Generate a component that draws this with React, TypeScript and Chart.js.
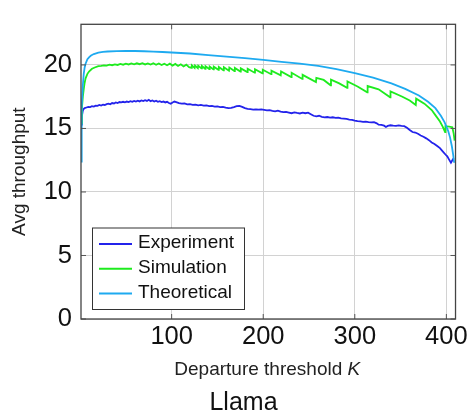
import React, { useEffect, useRef } from "react";
import { Chart, registerables } from "chart.js";

Chart.register(...registerables);

const FONT = '"Liberation Sans", Arial, Helvetica, sans-serif';

// ---- axis / labels ----
const xTicks = [100, 200, 300, 400];
const yTicks = [0, 5, 10, 15, 20];
const xMin = 1;
const xMax = 410;
const yMin = 0;
const yMax = 23.2;
const xTitle = "Departure threshold ";
const xTitleVar = "K";
const yTitle = "Avg throughput";
const caption = "Llama";
const seriesLabels = ["Experiment", "Simulation", "Theoretical"];
const seriesColors = ["rgb(35,35,235)", "rgb(30,235,30)", "rgb(30,170,240)"];

// ---- Experiment ----
const expX = [
  1, 2, 3, 4, 5, 7, 9, 11, 13, 15, 17, 19, 21, 23, 25, 27, 29, 31, 33, 35, 37, 39, 41, 43, 45, 47, 49,
  51, 53, 55, 57, 59, 61, 63, 65, 67, 69, 71, 73, 75, 77, 79, 81, 83, 85, 87, 89, 91, 93, 95, 97, 99,
  101, 103, 105, 108, 111, 114, 117, 120, 123, 126, 129, 132, 135, 138, 141, 144, 147, 150, 153, 156,
  159, 162, 165, 168, 171, 174, 177, 180, 183, 186, 189, 192, 195, 198, 201, 204, 207, 210, 213, 216,
  219, 222, 225, 228, 231, 234, 237, 240, 243, 246, 249, 252, 255, 258, 261, 264, 267, 270, 273, 276,
  279, 282, 285, 288, 291, 294, 297, 300, 303, 306, 309, 312, 315, 318, 321, 324, 326, 329, 332, 334,
  336, 339, 342, 345, 348, 351, 354, 357, 360, 363, 366, 369, 372, 375, 378, 381, 384, 387, 390, 393,
  396, 399, 401, 403, 405, 407, 408,
];
const expY = [
  15.3, 16.0, 16.4, 16.55, 16.6, 16.65, 16.7, 16.68, 16.75, 16.72, 16.8, 16.78, 16.85, 16.8, 16.88,
  16.85, 16.92, 16.95, 16.9, 17.0, 16.97, 17.05, 17.0, 17.08, 17.05, 17.1, 17.06,
  17.12, 17.08, 17.15, 17.1, 17.17, 17.12, 17.18, 17.13, 17.2, 17.15, 17.22, 17.17, 17.26, 17.15, 17.2,
  17.12, 17.18, 17.1, 17.15, 17.08, 17.12, 17.05, 17.1, 17.0, 16.95,
  17.05, 17.12, 17.08, 17.0, 16.95, 16.98, 16.9, 16.92, 16.86, 16.88, 16.82, 16.85, 16.8, 16.82, 16.76,
  16.78, 16.72, 16.74, 16.68, 16.7,
  16.64, 16.6, 16.62, 16.68, 16.75, 16.78, 16.7, 16.6, 16.55, 16.52, 16.48, 16.5, 16.48, 16.5, 16.46,
  16.42, 16.44, 16.38, 16.35, 16.4,
  16.32, 16.28, 16.3, 16.25, 16.2, 16.27, 16.22, 16.18, 16.25, 16.2, 16.24, 16.12, 16.0, 15.95, 16.0,
  15.92, 15.87, 15.9, 15.85, 15.88,
  15.84, 15.86, 15.8, 15.78, 15.75, 15.7, 15.68, 15.62, 15.58, 15.55, 15.52, 15.54, 15.5, 15.48, 15.5,
  15.4, 15.3, 15.28, 15.22, 15.12,
  15.2, 15.25, 15.22, 15.2, 15.24, 15.2, 15.18, 15.05, 14.88, 14.72, 14.68, 14.58, 14.45, 14.35, 14.22,
  14.08, 13.9, 13.78, 13.62, 13.45,
  13.2, 12.95, 12.8, 12.55, 12.3, 12.55, 12.65,
];

// ---- Simulation ----
const simX = [
  1, 2, 3, 4, 5, 6, 8, 10, 13, 16, 20, 23, 26, 29, 32, 35, 38, 41, 44, 47, 50, 53, 56, 59, 62, 65, 68,
  71, 74, 77, 80, 83, 86, 89, 92, 95, 98, 101, 104, 107, 110, 113, 116, 119,
  121.6, 122, 125.1, 125.5, 128.6, 129, 132.6, 133, 136.6, 137, 141.1, 141.5, 145.6, 146, 151.1, 151.5,
  156.6, 157, 162.6, 163, 168.6, 169, 175.1, 175.5, 182.6, 183, 190.6, 191, 199.1, 199.5, 208.6, 209,
  219.1, 219.5, 230.6, 231, 242.6, 243, 257.6, 258, 266, 273.6, 274, 283, 291.6, 292, 303, 313.6, 314,
  326, 338.6, 339, 352, 360, 366.6, 367, 376, 384, 388, 393, 396, 398.6, 399, 403, 406.5, 408, 409,
];
const simY = [
  15.4, 16.6, 17.5, 18.1, 18.6, 18.95, 19.3, 19.5, 19.7, 19.8, 19.9, 19.93, 19.97, 19.95, 20.02, 19.98,
  20.05, 20.0, 20.08, 20.02, 20.1, 20.04, 20.12, 20.05, 20.13, 20.06, 20.14,
  20.04, 20.12, 20.03, 20.13, 20.02, 20.12, 20.0, 20.1, 19.98, 20.1, 19.95, 20.08, 19.92, 20.05, 19.88,
  20.02, 19.82,
  19.78, 19.97, 19.77, 19.95, 19.75, 19.94, 19.73, 19.92, 19.7, 19.9, 19.68, 19.88, 19.65, 19.86, 19.62,
  19.84,
  19.58, 19.82, 19.55, 19.79, 19.52, 19.76, 19.48, 19.73, 19.44, 19.7, 19.39, 19.66, 19.34, 19.62, 19.27,
  19.55,
  19.18, 19.48, 19.05, 19.38, 18.9, 19.22, 18.66, 18.98, 18.82, 18.4, 18.84, 18.55, 18.2, 18.7, 18.3,
  17.85, 18.34,
  18.08, 17.45, 17.92, 17.5, 17.2, 16.85, 17.35, 16.95, 16.45, 16.05, 15.55, 15.15, 14.72, 15.18, 15.15,
  15.1, 14.6, 14.05,
];

// ---- Theoretical ----
const theoX = [
  1, 1.5, 2, 3, 4, 5, 6, 8, 10, 12, 15, 20, 25, 30, 40, 50, 60, 70, 80, 90, 100, 120, 140, 160, 180, 200,
  220, 240, 260, 280, 300, 320, 340, 355, 370, 380, 388, 394, 398, 402, 404, 406, 407.5, 408.5,
];
const theoY = [
  12.4, 15.0, 16.6, 18.4, 19.3, 19.8, 20.1, 20.45, 20.62, 20.74, 20.86, 20.97, 21.03, 21.06, 21.09, 21.1,
  21.1, 21.08, 21.05, 21.02, 20.98, 20.9, 20.78, 20.65, 20.53, 20.4,
  20.25, 20.1, 19.92, 19.68, 19.35, 19.0, 18.55, 18.12, 17.6, 17.1, 16.6, 16.0, 15.5, 14.8, 14.3, 13.6,
  12.9, 12.3,
];

const toPoints = (xs: number[], ys: number[]) => xs.map((x, i) => ({ x, y: ys[i] }));

const decorPlugin = {
  id: "decor",
  afterDatasetsDraw(chart: any) {
    const { ctx, chartArea: a, scales } = chart;
    ctx.save();
    const seg = (x1: number, y1: number, x2: number, y2: number) => {
      ctx.beginPath();
      ctx.moveTo(x1, y1);
      ctx.lineTo(x2, y2);
      ctx.stroke();
    };
    // inward tick marks
    ctx.strokeStyle = "#555";
    ctx.lineWidth = 1;
    xTicks.forEach((v) => {
      const px = scales.x.getPixelForValue(v);
      seg(px, a.bottom, px, a.bottom - 5);
      seg(px, a.top, px, a.top + 5);
    });
    yTicks.forEach((v) => {
      const py = scales.y.getPixelForValue(v);
      seg(a.left, py, a.left + 5, py);
      seg(a.right, py, a.right - 5, py);
    });
    // frame
    ctx.strokeStyle = "#444";
    ctx.lineWidth = 1.3;
    ctx.strokeRect(a.left, a.top, a.right - a.left, a.bottom - a.top);

    // legend
    const lx = a.left + 11.5;
    const ly = a.bottom - 91;
    const lw = 152;
    const lh = 81.5;
    ctx.fillStyle = "#fff";
    ctx.fillRect(lx, ly, lw, lh);
    ctx.strokeStyle = "#333";
    ctx.lineWidth = 1;
    ctx.strokeRect(lx, ly, lw, lh);
    ctx.font = `19px ${FONT}`;
    ctx.textAlign = "left";
    ctx.textBaseline = "middle";
    seriesLabels.forEach((lab, i) => {
      const ry = ly + 16 + i * 24.8;
      ctx.strokeStyle = seriesColors[i];
      ctx.lineWidth = 2;
      seg(lx + 6.5, ry, lx + 39.5, ry);
      ctx.fillStyle = "#111";
      ctx.fillText(lab, lx + 45.5, ry - 1);
    });

    // x title with italic variable
    ctx.fillStyle = "#222";
    ctx.textBaseline = "alphabetic";
    ctx.font = `19px ${FONT}`;
    const w1 = ctx.measureText(xTitle).width;
    ctx.font = `italic 19px ${FONT}`;
    const w2 = ctx.measureText(xTitleVar).width;
    const cx = (a.left + a.right) / 2 - 1;
    const sx = cx - (w1 + w2) / 2;
    ctx.font = `19px ${FONT}`;
    ctx.fillText(xTitle, sx, 375);
    ctx.font = `italic 19px ${FONT}`;
    ctx.fillText(xTitleVar, sx + w1, 375);

    // y title
    ctx.save();
    ctx.translate(19.5, (a.top + a.bottom) / 2);
    ctx.rotate(-Math.PI / 2);
    ctx.font = `19px ${FONT}`;
    ctx.textAlign = "center";
    ctx.textBaseline = "middle";
    ctx.fillText(yTitle, 0, 0);
    ctx.restore();

    // caption
    ctx.font = `25px ${FONT}`;
    ctx.textAlign = "center";
    ctx.textBaseline = "alphabetic";
    ctx.fillStyle = "#111";
    ctx.fillText(caption, 243.5, 410);
    ctx.restore();
  },
};

export default function App() {
  const ref = useRef<HTMLCanvasElement | null>(null);
  useEffect(() => {
    if (!ref.current) return;
    const chart = new Chart(ref.current, {
      type: "line",
      data: {
        datasets: [
          { label: seriesLabels[0], data: toPoints(expX, expY), borderColor: seriesColors[0], borderWidth: 1.8, order: 2 },
          { label: seriesLabels[1], data: toPoints(simX, simY), borderColor: seriesColors[1], borderWidth: 1.8, order: 1 },
          { label: seriesLabels[2], data: toPoints(theoX, theoY), borderColor: seriesColors[2], borderWidth: 1.8, order: 0 },
        ],
      },
      options: {
        animation: false,
        responsive: false,
        devicePixelRatio: 1,
        layout: { padding: { left: 0, right: 15, top: 6, bottom: 0 } },
        elements: { point: { radius: 0 }, line: { tension: 0, fill: false } },
        plugins: { legend: { display: false }, tooltip: { enabled: false }, title: { display: false } },
        scales: {
          x: {
            type: "linear",
            min: xMin,
            max: xMax,
            border: { display: false },
            grid: { color: "#d2d2d2", lineWidth: 1, drawTicks: false },
            ticks: { font: { family: FONT, size: 25.5 }, color: "#111", padding: 3, maxRotation: 0 },
            afterBuildTicks: (s: any) => {
              s.ticks = xTicks.map((v) => ({ value: v }));
            },
            afterFit: (s: any) => {
              s.height = 94;
            },
          },
          y: {
            type: "linear",
            min: yMin,
            max: yMax,
            border: { display: false },
            grid: { color: "#d2d2d2", lineWidth: 1, drawTicks: false },
            ticks: { font: { family: FONT, size: 25.5 }, color: "#111", padding: 9 },
            afterBuildTicks: (s: any) => {
              s.ticks = yTicks.map((v) => ({ value: v }));
            },
            afterFit: (s: any) => {
              s.width = 81;
            },
          },
        },
      },
      plugins: [decorPlugin],
    } as any);
    return () => chart.destroy();
  }, []);
  return (
    <div style={{ position: "fixed", left: 0, top: 0, width: 471, height: 413, background: "#fff" }}>
      <canvas ref={ref} width={471} height={413} style={{ display: "block" }} />
    </div>
  );
}
